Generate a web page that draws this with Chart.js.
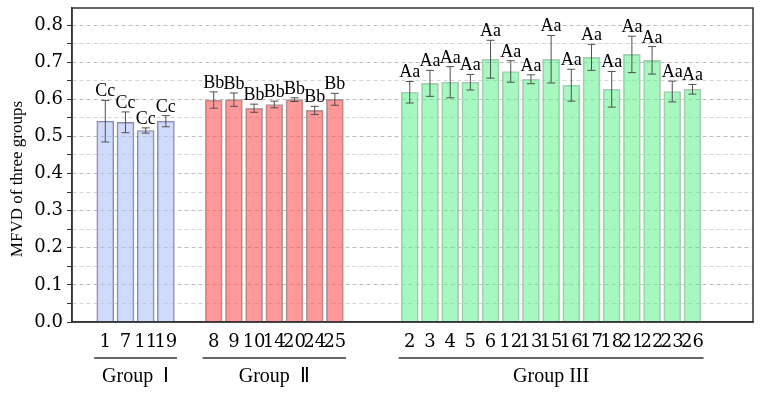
<!DOCTYPE html>
<html>
<head>
<meta charset="utf-8">
<script src="https://cdn.jsdelivr.net/npm/chart.js@4.4.0/dist/chart.umd.min.js"></script>
<style>
  html, body { margin: 0; padding: 0; background: #fff; }
  #wrap { width: 764px; height: 394px; }
</style>
</head>
<body>
<div id="wrap"><canvas id="chart"></canvas></div>
<script>
const namesI = ['1', '7', '11', '19'];
const meanI = [0.541, 0.538, 0.516, 0.541];
const errI = [0.056, 0.028, 0.007, 0.015];

const namesII = ['8', '9', '10', '14', '20', '24', '25'];
const meanII = [0.598, 0.599, 0.576, 0.586, 0.599, 0.570, 0.600];
const errII = [0.022, 0.018, 0.011, 0.009, 0.005, 0.011, 0.016];

const namesIII = ['2', '3', '4', '5', '6', '12', '13', '15', '16', '17', '18', '21', '22', '23', '26'];
const meanIII = [0.619, 0.643, 0.646, 0.646, 0.708, 0.675, 0.654, 0.708, 0.638, 0.713, 0.627, 0.721, 0.705, 0.621, 0.627];
const errIII = [0.029, 0.035, 0.042, 0.021, 0.051, 0.029, 0.012, 0.064, 0.043, 0.035, 0.048, 0.049, 0.037, 0.028, 0.013];

const groupNames = ['Group  Ⅰ', 'Group  Ⅱ', 'Group III'];
const groupLetters = ['Cc', 'Bb', 'Aa'];
const yTickLabels = ['0.0', '0.1', '0.2', '0.3', '0.4', '0.5', '0.6', '0.7', '0.8'];
const yTitle = 'MFVD of three groups';

// layout: where each group starts on the x axis (in bar slots)
const groupStart = [0, 5.37, 15.08];
const fills = ['rgba(170,188,245,0.55)', 'rgba(255,80,80,0.58)', 'rgba(80,240,130,0.5)'];
const borders = ['#8a8a9c', '#a3a3a3', '#b5c8b9'];

const groups = [
    { names: namesI, mean: meanI, err: errI },
    { names: namesII, mean: meanII, err: errII },
    { names: namesIII, mean: meanIII, err: errIII }
];

const tickPos = [];
const tickText = [];
const datasets = groups.map((g, gi) => {
    const pts = g.names.map((n, i) => {
        tickPos.push(groupStart[gi] + i);
        tickText.push(n);
        return { x: groupStart[gi] + i, y: g.mean[i] };
    });
    return {
        label: groupNames[gi],
        data: pts,
        err: g.err,
        letters: groupLetters[gi],
        backgroundColor: fills[gi],
        borderColor: borders[gi],
        borderWidth: 1,
        barThickness: 17,
        grouped: false
    };
});

const serif = 'Liberation Serif';

const annotate = {
    id: 'annotate',
    afterDatasetsDraw(chart) {
        const ctx = chart.ctx;
        const xs = chart.scales.x, ys = chart.scales.y;
        ctx.save();
        chart.data.datasets.forEach(ds => {
            ds.data.forEach((p, i) => {
                const px = xs.getPixelForValue(p.x);
                const top = ys.getPixelForValue(p.y + ds.err[i]);
                const bot = ys.getPixelForValue(p.y - ds.err[i]);
                ctx.strokeStyle = '#505050';
                ctx.lineWidth = 1;
                ctx.beginPath();
                ctx.moveTo(px, top); ctx.lineTo(px, bot);
                ctx.moveTo(px - 4, top); ctx.lineTo(px + 4, top);
                ctx.moveTo(px - 4, bot); ctx.lineTo(px + 4, bot);
                ctx.stroke();
                ctx.fillStyle = '#000';
                ctx.font = '18px "' + serif + '"';
                ctx.textAlign = 'center';
                ctx.textBaseline = 'alphabetic';
                ctx.fillText(ds.letters, px, top - 4);
            });
        });
        ctx.restore();
    },
    afterDraw(chart) {
        const ctx = chart.ctx;
        const a = chart.chartArea;
        const xs = chart.scales.x;
        ctx.save();
        ctx.strokeStyle = '#333';
        ctx.lineWidth = 1.5;
        ctx.strokeRect(a.left, a.top, a.right - a.left, a.bottom - a.top);
        groups.forEach((g, gi) => {
            const x1 = xs.getPixelForValue(groupStart[gi] - 0.55);
            const x2 = xs.getPixelForValue(groupStart[gi] + g.names.length - 1 + 0.55);
            ctx.beginPath();
            ctx.moveTo(x1, 358); ctx.lineTo(x2, 358);
            ctx.stroke();
            ctx.fillStyle = '#000';
            ctx.font = '20px "' + serif + '"';
            ctx.textAlign = 'center';
            ctx.textBaseline = 'alphabetic';
            ctx.fillText(groupNames[gi], (x1 + x2) / 2, 382);
        });
        // y axis title
        ctx.translate(18, 179);
        ctx.rotate(-Math.PI / 2);
        ctx.font = '17px "' + serif + '"';
        ctx.textAlign = 'center';
        ctx.textBaseline = 'middle';
        ctx.fillText(yTitle, 0, 0);
        ctx.restore();
    }
};

new Chart(document.getElementById('chart'), {
    type: 'bar',
    data: { datasets: datasets },
    options: {
        responsive: true,
        maintainAspectRatio: false,
        animation: false,
        layout: { padding: { top: 8, right: 11, left: 0, bottom: 0 } },
        plugins: {
            legend: { display: false },
            tooltip: { enabled: false }
        },
        scales: {
            x: {
                type: 'linear',
                min: -1,
                max: 31.43,
                afterBuildTicks: s => { s.ticks = tickPos.map(v => ({ value: v })); },
                afterFit: s => { s.height = 72; s.paddingLeft = 0; s.paddingRight = 0; },
                grid: { display: false },
                border: { color: '#333', width: 1.5 },
                ticks: {
                    autoSkip: false,
                    maxRotation: 0,
                    padding: 2,
                    color: '#000',
                    font: { family: 'DejaVu Serif', size: 18 },
                    callback: (v, i) => tickText[i]
                }
            },
            y: {
                min: 0,
                max: 0.846,
                afterBuildTicks: s => {
                    const t = [];
                    for (let k = 0; k <= 16; k++) t.push({ value: k * 0.05 });
                    s.ticks = t;
                },
                afterFit: s => { s.width = 72; s.paddingTop = 0; s.paddingBottom = 0; },
                border: { color: '#333', width: 1.5, dash: [4, 3] },
                grid: {
                    color: c => (c.index % 2 === 0 ? 'rgba(0,0,0,0.26)' : 'rgba(0,0,0,0.17)'),
                    tickLength: 5,
                    tickColor: '#333',
                    tickBorderDash: [0, 0]
                },
                ticks: {
                    autoSkip: false,
                    padding: 4,
                    color: '#000',
                    font: { family: 'DejaVu Serif', size: 18 },
                    callback: (v, i) => (i % 2 === 0 ? yTickLabels[i / 2] : '')
                }
            }
        }
    },
    plugins: [annotate]
});
</script>
</body>
</html>
